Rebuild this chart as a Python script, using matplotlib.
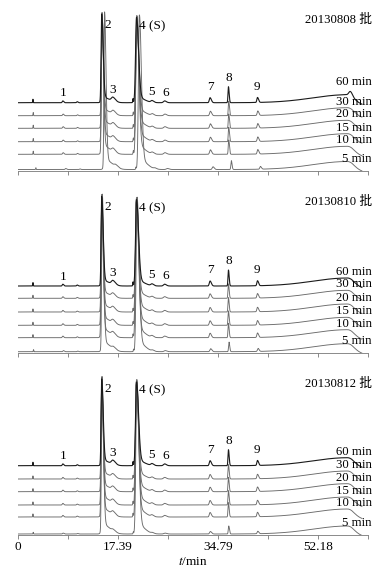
import numpy as np
import matplotlib
matplotlib.use("Agg")
import matplotlib.pyplot as plt

plt.rcParams["font.family"] = ["Liberation Serif", "Noto Sans CJK SC"]
plt.rcParams["mathtext.fontset"] = "stix"

# batches and sampling times (one stacked chromatogram panel per batch)
batches = ["20130808", "20130810", "20130812"]
times = ["60 min", "30 min", "20 min", "15 min", "10 min", "5 min"]

# vertical offset of each trace above the 5 min trace (signal units)
offsets = [
    [66.8, 53.8, 41.2, 27.8, 15.2, 0.0],
    [65.7, 53.4, 39.7, 26.4, 14.0, 0.0],
    [68.3, 55.0, 42.3, 29.0, 17.0, 0.0],
]
# retention-time shift of each trace (min)
shifts = [
    [0.0, 0.05, 0.05, 0.05, 0.05, 0.5],
    [0.0, 0.0, 0.0, 0.0, 0.0, 0.1],
    [0.0, 0.0, 0.0, 0.0, 0.0, 0.05],
]
# relative size of the minor peaks per trace
minor_scale = [
    [1.0, 0.9, 0.9, 0.9, 0.9, 0.55],
    [1.0, 0.9, 0.9, 0.9, 0.9, 0.6],
    [1.0, 0.9, 0.9, 0.9, 0.9, 0.5],
]

# peak table: retention time (min), height, left / right width (min)
peak_rt = [2.6, 7.8, 10.3, 14.55, 16.5, 20.0, 20.6, 23.3, 25.5, 33.4, 36.6, 41.65]
peak_h = [3.5, 1.8, 1.0, 0, 4.0, 4.0, 0, 1.8, 1.8, 5.0, 16.0, 5.0]
peak_wl = [0.04, 0.10, 0.10, 0.10, 0.25, 0.05, 0.16, 0.2, 0.2, 0.13, 0.08, 0.11]
peak_wr = [0.04, 0.15, 0.12, 0.25, 0.45, 0.05, 0.35, 0.3, 0.3, 0.22, 0.12, 0.18]
big_top = {3: 152.0, 6: 149.0}   # absolute top of peak 2 and 4(S)

# peak labels: (text, rt, height above 60 min baseline)
labels = ["1", "3", "5", "6", "7", "8", "9"]
label_rt = [7.8, 16.5, 23.3, 25.6, 33.4, 36.7, 41.6]
label_dy = [9.5, 13.0, 11.0, 10.0, 16.0, 25.0, 16.0]

tick_step = 17.39 / 2
x_end = 7 * tick_step
t = np.linspace(0, 59.8, 3000)


def peak(t, rt, h, wl, wr):
    s = np.where(t < rt, wl, wr)
    return h * np.exp(-0.5 * ((t - rt) / s) ** 2)


def trace(t, off, shift, scale, end_spike=0.0):
    y = np.zeros_like(t)
    for i, rt in enumerate(peak_rt):
        rt = rt + shift
        if i in big_top:
            h = big_top[i] - off
            y += peak(t, rt, h, peak_wl[i], peak_wr[i])
            y += peak(t, rt + 0.3, 0.06 * h, 0.3, 1.1)   # tailing
        else:
            y += peak(t, rt, peak_h[i] * scale, peak_wl[i], peak_wr[i])
    # baseline drift at the end of the gradient
    y += peak(t, 57.3, 8.0, 6.0, 1.1)
    y += peak(t, 57.8, end_spike, 0.25, 0.35)
    y -= 2.0 * np.clip((t - 58.0) / 1.8, 0, 1)
    return y


fig = plt.figure(figsize=(3.85, 5.70), dpi=100)
base_px = [169.5, 351.7, 534.0]

for p, batch in enumerate(batches):
    B = base_px[p]
    ax = fig.add_axes([18 / 385, (570 - (B + 1)) / 570, 350 / 385, 161 / 570])
    ax.set_xlim(0, x_end)
    ax.set_ylim(-1, 160)
    for k, name in enumerate(times):
        off = offsets[p][k]
        spike = 4.0 if (p == 0 and k == 0) else 0.0
        y = trace(t, off, shifts[p][k], minor_scale[p][k], spike) + off
        col = "#1a1a1a" if k == 0 else "#6a6a6a"
        ax.plot(t, y, color=col, lw=0.8 if k == 0 else 0.65, zorder=3 - k * 0.1)
        dy = 21 if (p == 0 and k == 0) else (11 if k == 5 else 14)
        ax.text(61.5, off + dy, name, ha="right", va="center", fontsize=9.2)
    top = offsets[p][0]
    for lab, rt, dy in zip(labels, label_rt, label_dy):
        ax.text(rt, top + dy, lab, ha="center", va="center", fontsize=9.5)
    ax.text(15.0, 145, "2", ha="left", va="center", fontsize=9.5)
    ax.text(21.0, 143.5, "4 (S)", ha="left", va="center", fontsize=9.5)
    ax.text(61.6, 149.5, batch + " 批", ha="right", va="center", fontsize=9.2)

    for s in ["top", "right", "left"]:
        ax.spines[s].set_visible(False)
    ax.spines["bottom"].set_color("#777777")
    ax.spines["bottom"].set_linewidth(0.6)
    ax.set_yticks([])
    ax.set_xticks(np.arange(8) * tick_step)
    ax.tick_params(axis="x", length=3, width=0.6, color="#777777", direction="out")
    if p == 2:
        ax.set_xticklabels(["0", "", "17.39", "", "34.79", "", "52.18", ""], fontsize=9.5)
        ax.tick_params(axis="x", pad=1)
    else:
        ax.set_xticklabels([])

fig.text(193 / 385, 1 - 562 / 570, r"$t$/min", ha="center", va="center", fontsize=9.5)
fig.savefig("out.png", dpi=100)
